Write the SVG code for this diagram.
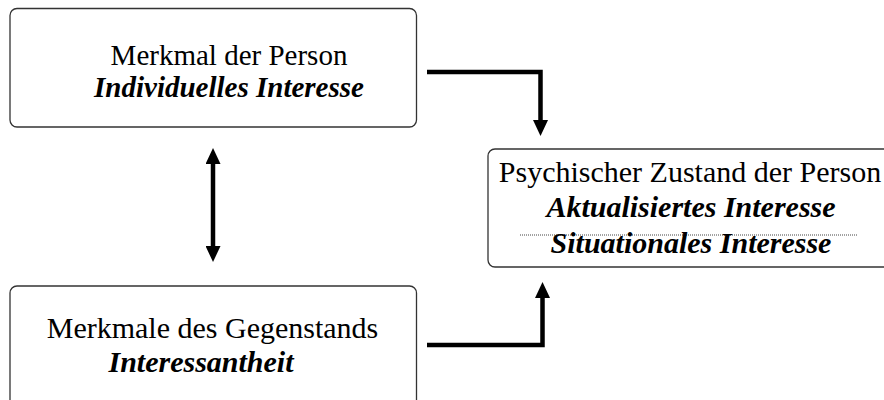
<svg xmlns="http://www.w3.org/2000/svg" width="884" height="400" viewBox="0 0 884 400">
  <style>
    .box { fill: #ffffff; stroke: #333333; stroke-width: 1.3; }
    .reg { font-family: "Liberation Serif", "Times New Roman", serif; fill: #000000; text-anchor: middle; }
    .emph { font-family: "Liberation Serif", "Times New Roman", serif; font-weight: bold; font-style: italic; fill: #000000; text-anchor: middle; }
    .conn { fill: none; stroke: #000000; stroke-width: 4.5; stroke-linejoin: miter; }
    .sep { stroke: #444444; stroke-width: 1; stroke-dasharray: 1 1; }
  </style>
  <defs>
    <marker id="head" viewBox="0 0 16 15" refX="1" refY="7.5" markerWidth="16" markerHeight="15" markerUnits="userSpaceOnUse" orient="auto-start-reverse">
      <path d="M0,0 L16,7.5 L0,15 Z" fill="#000000"/>
    </marker>
  </defs>

  <rect width="884" height="400" fill="#ffffff"/>

  <g id="connectors">
    <!-- person trait to psychological state -->
    <path class="conn" d="M427,72 H540.5 V121" marker-end="url(#head)"/>
    <!-- object features to psychological state -->
    <path class="conn" d="M427,345 H542.5 V297" marker-end="url(#head)"/>
    <!-- mutual relation between person and object -->
    <path class="conn" d="M213,163 V247" marker-start="url(#head)" marker-end="url(#head)"/>
  </g>

  <g id="node-person">
    <rect class="box" x="10" y="8.5" width="406.5" height="118.5" rx="7"/>
    <text class="reg" x="229" y="65" font-size="29">Merkmal der Person</text>
    <text class="emph" x="229" y="97" font-size="29">Individuelles Interesse</text>
  </g>

  <g id="node-state">
    <rect class="box" x="488" y="149" width="420" height="118" rx="7"/>
    <text class="reg" x="690" y="182" font-size="30">Psychischer Zustand der Person</text>
    <text class="emph" x="691" y="217" font-size="30">Aktualisiertes Interesse</text>
    <line class="sep" x1="520" y1="235" x2="858" y2="235"/>
    <text class="emph" x="691" y="253" font-size="30">Situationales Interesse</text>
  </g>

  <g id="node-object">
    <rect class="box" x="10" y="286" width="406.5" height="130" rx="7"/>
    <text class="reg" x="212.5" y="338" font-size="30">Merkmale des Gegenstands</text>
    <text class="emph" x="201" y="372" font-size="30">Interessantheit</text>
  </g>
</svg>
